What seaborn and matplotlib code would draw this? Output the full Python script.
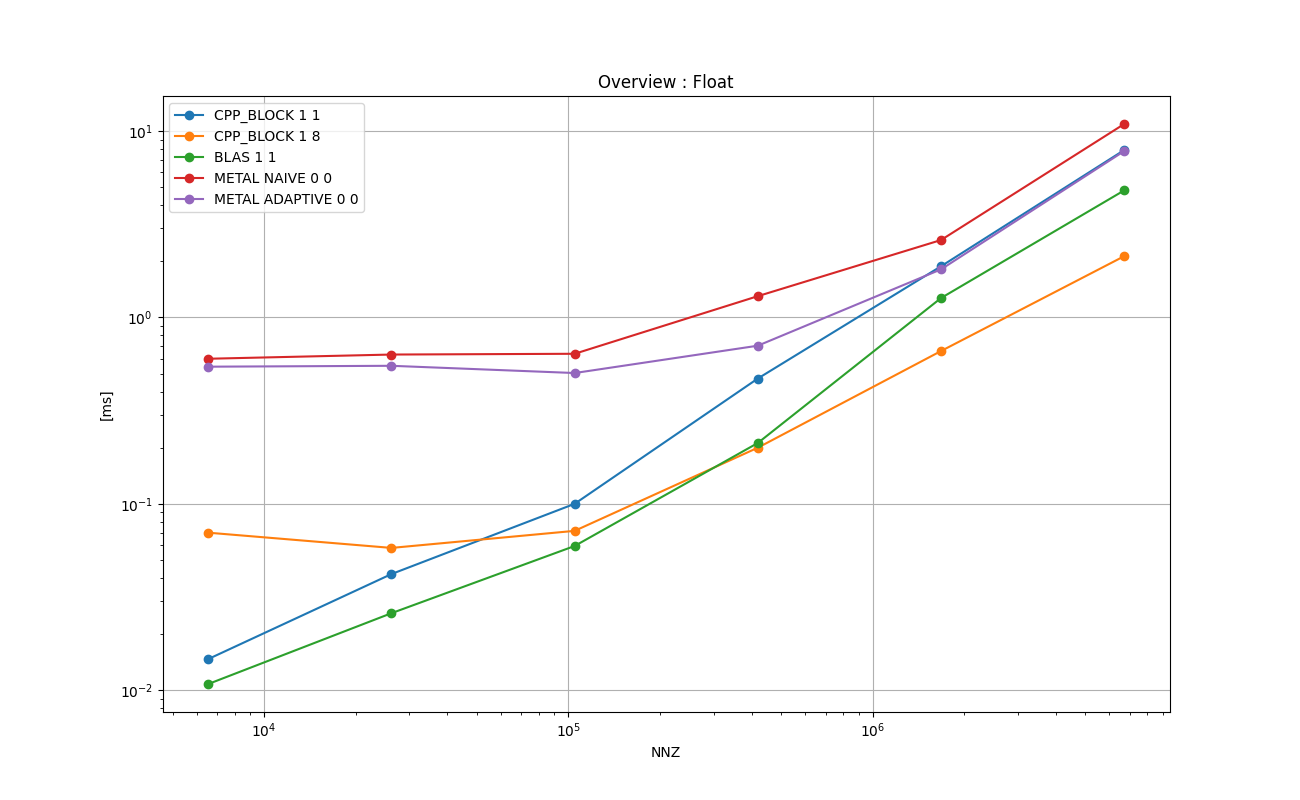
import matplotlib
matplotlib.use("Agg")
import matplotlib.pyplot as plt
import seaborn as sns
import pandas as pd

nnz = [6553.6, 26214.4, 104857.6, 419430.4, 1677721.6, 6710886.4]
cpp_block_1_1 = [0.0147, 0.042, 0.100, 0.47, 1.88, 7.9]
cpp_block_1_8 = [0.0700, 0.058, 0.0716, 0.200, 0.66, 2.13]
blas_1_1 = [0.0108, 0.0259, 0.0594, 0.212, 1.27, 4.80]
metal_naive = [0.600, 0.632, 0.638, 1.30, 2.60, 10.9]
metal_adaptive = [0.544, 0.550, 0.503, 0.705, 1.81, 7.80]

series = [
    ("CPP_BLOCK 1 1", cpp_block_1_1),
    ("CPP_BLOCK 1 8", cpp_block_1_8),
    ("BLAS 1 1", blas_1_1),
    ("METAL NAIVE 0 0", metal_naive),
    ("METAL ADAPTIVE 0 0", metal_adaptive),
]
colors = ["#1f77b4", "#ff7f0e", "#2ca02c", "#d62728", "#9467bd"]

fig, ax = plt.subplots(figsize=(13, 8), dpi=100)
for (name, vals), c in zip(series, colors):
    df = pd.DataFrame({"NNZ": nnz, "ms": vals})
    sns.lineplot(data=df, x="NNZ", y="ms", ax=ax, color=c, marker="o",
                 markersize=6, markeredgecolor=c, markeredgewidth=1,
                 linewidth=1.5, label=name)

ax.set_xscale("log")
ax.set_yscale("log")
ax.grid(True, which="major")
ax.set_xlabel("NNZ")
ax.set_ylabel("[ms]")
ax.set_title("Overview : Float")
ax.legend(loc="upper left")
fig.savefig("out.png", dpi=100)
